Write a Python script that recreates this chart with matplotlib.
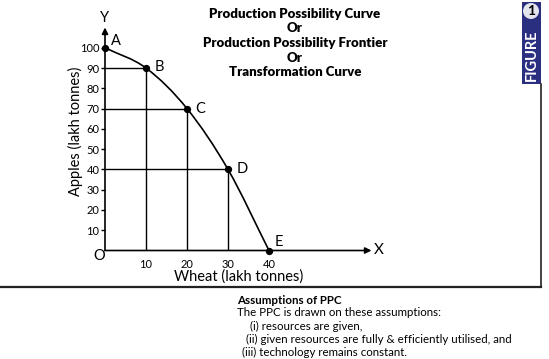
import numpy as np
import matplotlib.pyplot as plt
from matplotlib.path import Path
from matplotlib.patches import PathPatch, Rectangle, Ellipse

plt.rcParams['font.family'] = ['Lato', 'DejaVu Sans']

# data
wheat = [0, 10, 20, 30, 40]
apples = [100, 90, 70, 40, 0]
labels = ['A', 'B', 'C', 'D', 'E']
x_ticks = [10, 20, 30, 40]
y_ticks = [10, 20, 30, 40, 50, 60, 70, 80, 90, 100]
title_lines = ['Production Possibility Curve', 'Or', 'Production Possibility Frontier',
               'Or', 'Transformation Curve']
notes = ['The PPC is drawn on these assumptions:',
         '(i) resources are given,',
         '(ii) given resources are fully & efficiently utilised, and',
         '(iii) technology remains constant.']

W, H = 549, 359
fig = plt.figure(figsize=(W / 100, H / 100), dpi=100)


def px(x, y):
    return x / W, 1 - y / H


# axes: origin at (105, 250.5), x 0..65, y 0..110
ax = fig.add_axes([105 / W, (H - 250.5) / H, 266.5 / W, 223 / H])
ax.set_xlim(0, 65)
ax.set_ylim(0, 110)
for s in ax.spines.values():
    s.set_visible(False)
ax.patch.set_alpha(0)

# axis lines with arrows
ax.annotate('', xy=(65, 0), xytext=(0, 0),
            arrowprops=dict(arrowstyle='-|>', color='black', lw=1.2,
                            mutation_scale=9, shrinkA=0, shrinkB=0),
            annotation_clip=False)
ax.annotate('', xy=(0, 110), xytext=(0, 0),
            arrowprops=dict(arrowstyle='-|>', color='black', lw=1.2,
                            mutation_scale=9, shrinkA=0, shrinkB=0),
            annotation_clip=False)

ax.set_xticks(x_ticks)
ax.set_yticks(y_ticks)
ax.tick_params(axis='x', length=0, pad=6, labelsize=8)
ax.tick_params(axis='y', length=3, width=1, pad=1, labelsize=8)

# guide lines
for xv, yv in zip(wheat[1:-1], apples[1:-1]):
    ax.plot([0, xv], [yv, yv], color='black', lw=1)
    ax.plot([xv, xv], [0, yv], color='black', lw=1)

# smooth curve through the points (Catmull-Rom as cubic Bezier)
pts = np.column_stack([wheat, apples]).astype(float)
ext = np.vstack([2 * pts[0] - pts[1], pts, 2 * pts[-1] - pts[-2]])
verts = [pts[0]]
codes = [Path.MOVETO]
for i in range(1, len(ext) - 2):
    p0, p1, p2, p3 = ext[i - 1], ext[i], ext[i + 1], ext[i + 2]
    verts += [p1 + (p2 - p0) / 6, p2 - (p3 - p1) / 6, p2]
    codes += [Path.CURVE4] * 3
ax.add_patch(PathPatch(Path(verts, codes), fill=False, lw=1.2, color='black'))

ax.scatter(wheat, apples, s=18, color='black', zorder=5, clip_on=False)
offsets = {'A': (4, 5), 'B': (6, 1), 'C': (6, 0), 'D': (6, 0), 'E': (4, 6)}
for xv, yv, lab in zip(wheat, apples, labels):
    ax.annotate(lab, (xv, yv), xytext=offsets[lab], textcoords='offset points',
                fontsize=10.5, va='center', ha='left')

ax.text(-1.3, -2.7, 'O', fontsize=10.5, ha='center', va='center')
ax.text(66.8, 0, 'X', fontsize=11, ha='center', va='center')
ax.text(0, 111, 'Y', fontsize=10.5, ha='center', va='bottom')
ax.set_xlabel('Wheat (lakh tonnes)', fontsize=10.5, labelpad=0)
fig.text(*px(75, 131), 'Apples (lakh tonnes)', rotation=90, fontsize=10.5,
         ha='center', va='center')

# title
for i, t in enumerate(title_lines):
    fig.text(*px(295, 14 + i * 14.5), t, fontsize=9.5, fontweight='heavy',
             ha='center', va='center')

# badge
fig.patches.append(Rectangle(px(522, 84), 19 / W, 82 / H, transform=fig.transFigure,
                             facecolor='#2b2f80', edgecolor='none'))
fig.patches.append(Ellipse(px(531, 11), 16 / W, 16 / H, transform=fig.transFigure,
                           facecolor='#e4e4ee', edgecolor='none'))
fig.text(*px(531, 11), '1', color='black', fontsize=10, fontweight='bold',
         ha='center', va='center')
fig.text(*px(532, 55), 'FIGURE', color='white', fontsize=10.5, fontweight='bold',
         rotation=90, ha='center', va='center')

# frame lines
fig.add_artist(plt.Line2D([0, 541 / W], [1 - 287 / H] * 2, color='#222222', lw=1.6,
                          transform=fig.transFigure))
fig.add_artist(plt.Line2D([541 / W] * 2, [1 - 84 / H, 1 - 287 / H], color='#222222',
                          lw=1.2, transform=fig.transFigure))

# notes
fig.text(*px(237, 300), 'Assumptions of PPC', fontsize=8.3, fontweight='bold',
         ha='left', va='center')
note_x = [237, 250, 246, 242]
for i, (t, xx) in enumerate(zip(notes, note_x)):
    fig.text(*px(xx, 313 + i * 13), t, fontsize=8.3, ha='left', va='center')

fig.savefig('out.png', dpi=100)
